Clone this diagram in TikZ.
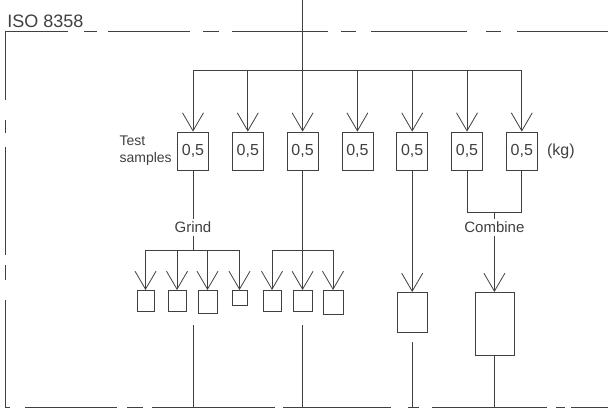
\documentclass[tikz,border=0pt]{standalone}
\usepackage{fontspec}
\setmainfont{Liberation Sans}
\usetikzlibrary{arrows.meta}
\tikzstyle{sample}=[rectangle, draw, minimum width=31pt, minimum height=38pt, inner sep=0pt, font=\fontsize{16}{16}\selectfont]
\tikzstyle{piece}=[rectangle, draw, minimum width=18pt, minimum height=21pt, inner sep=0pt, anchor=north]
\tikzstyle{note}=[inner sep=3pt, font=\fontsize{15}{17}\selectfont]
\tikzstyle{feed}=[-{Straight Barb[length=18pt, width=21pt]}]
\begin{document}
\begin{tikzpicture}[x=1pt, y=-1pt, line width=0.8pt, black!75]
  \useasboundingbox (0,0) rectangle (608,409);
  % frame
  \node[note, anchor=south west, inner sep=0pt, font=\fontsize{18}{18}\selectfont] (0) at (7,28) {ISO 8358};
  \draw[line width=0.7pt] (5,100)--(5,31.5)--(68,31.5) (84,31.5)--(97,31.5) (108,31.5)--(190,31.5)
    (203,31.5)--(219,31.5) (232,31.5)--(328,31.5) (341,31.5)--(356,31.5) (371,31.5)--(467,31.5)
    (486,31.5)--(501,31.5) (517,31.5)--(608,31.5);
  \draw[line width=0.7pt] (5,120)--(5,133) (5,147)--(5,255) (5,265)--(5,280) (5,300)--(5,407)--(10,407)
    (25,407)--(117,407) (127,407)--(143,407) (152,407)--(275,407) (283,407)--(391,407)
    (408,407)--(419,407) (432,407)--(547,407) (556,407)--(565,407) (571,407)--(608,407);
  \coordinate (70) at (0,407);
  % test samples
  \foreach \i/\x in {1/193, 2/247.8, 3/302.6, 4/357.4, 5/412.2, 6/467, 7/521.8}
    \node[sample] (1\i) at (\x,151) {0,5};
  \node[note, align=left, anchor=east, font=\fontsize{14}{17}\selectfont] (18) at ([xshift=-2pt]11.west) {Test\\samples};
  \node[note, anchor=west, font=\fontsize{16}{16}\selectfont] (19) at ([xshift=6pt]17.east) {(kg)};
  \coordinate (10) at (302.6,0);
  \coordinate (20) at (302.6,70);
  \draw (10)--(20) (11 |- 20)--(17 |- 20);
  \foreach \i in {1,...,7}
    \draw[feed] (1\i |- 20)--(1\i.north);
  % grind
  \node[note] (41) at (193,227.5) {Grind};
  \coordinate (42) at (193,250);
  \coordinate (43) at (302.6,250);
  \draw (11)--(41) (41)--(42) (13)--(43);
  \foreach \i/\x/\w/\h in {1/145.5/17/21, 2/177/18/21, 3/207.5/19/23, 4/239.5/15/15, 5/272/18/21, 6/302.6/19/21, 7/333/20/24}
    \node[piece, minimum width=\w pt, minimum height=\h pt] (5\i) at (\x,290) {};
  \draw (51 |- 42)--(54 |- 42) (55 |- 43)--(57 |- 43);
  \foreach \i in {1,...,4}
    \draw[feed] (5\i |- 42)--(5\i.north);
  \foreach \i in {5,6,7}
    \draw[feed] (5\i |- 43)--(5\i.north);
  \coordinate (61) at (193,325);
  \coordinate (62) at (302.6,325);
  \draw (61)--(61 |- 70) (62)--(62 |- 70);
  % single sample
  \node[piece, minimum width=30pt, minimum height=40pt] (35) at (412.2,292) {};
  \draw[feed] (15)--(35);
  \coordinate (63) at (412.2,342);
  \draw (63)--(63 |- 70);
  % combine
  \coordinate (44) at (494.4,212);
  \draw (16)--(16 |- 44)--(17 |- 44)--(17);
  \node[note] (45) at (494.4,227.5) {Combine};
  \draw (44)--(45);
  \node[piece, minimum width=39pt, minimum height=63pt] (36) at (494.4,292) {};
  \draw[feed] (45)--(36);
  \draw (36)--(36 |- 70);
\end{tikzpicture}
\end{document}
